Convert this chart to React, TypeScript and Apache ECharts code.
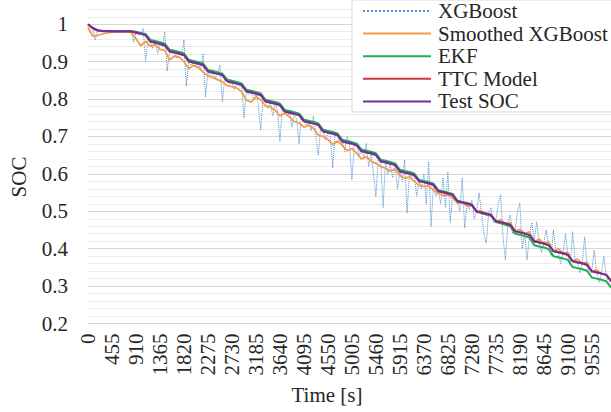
import { useEffect, useRef } from "react";
import * as echarts from "echarts";

// Sampling steps of the logged signals, in seconds
const SOC_STEP = 91;
const XGB_STEP = 45.5;
const T_END = 9919;
const LABEL_STEP = 455;

const seriesNames = ["XGBoost", "Smoothed XGBoost", "EKF", "TTC Model", "Test SOC"];

const testSoc = [
  1.0, 0.99, 0.984, 0.982, 0.982, 0.981, 0.981, 0.981, 0.981,
  0.981, 0.978, 0.975, 0.971,
  0.954, 0.951, 0.948, 0.944,
  0.928, 0.925, 0.922, 0.918,
  0.901, 0.898, 0.895, 0.891,
  0.874, 0.871, 0.868, 0.864,
  0.848, 0.845, 0.842, 0.838,
  0.821, 0.818, 0.815, 0.811,
  0.794, 0.791, 0.788, 0.784,
  0.767, 0.764, 0.761, 0.757,
  0.741, 0.738, 0.735, 0.731,
  0.714, 0.711, 0.708, 0.704,
  0.687, 0.684, 0.681, 0.677,
  0.661, 0.658, 0.655, 0.651,
  0.634, 0.631, 0.628, 0.624,
  0.607, 0.604, 0.601, 0.597,
  0.581, 0.578, 0.575, 0.571,
  0.554, 0.551, 0.548, 0.544,
  0.527, 0.524, 0.521, 0.517,
  0.5, 0.497, 0.494, 0.49,
  0.474, 0.471, 0.468, 0.464,
  0.447, 0.444, 0.441, 0.437,
  0.42, 0.417, 0.414, 0.41,
  0.394, 0.391, 0.388, 0.384,
  0.367, 0.364, 0.361, 0.357,
  0.34, 0.337, 0.334, 0.33,
  0.314,
];

const ttcModel = [
  0.999, 0.989, 0.983, 0.981, 0.981, 0.98, 0.98, 0.98, 0.98,
  0.98, 0.977, 0.974, 0.97,
  0.953, 0.95, 0.947, 0.943,
  0.927, 0.924, 0.921, 0.917,
  0.9, 0.897, 0.894, 0.89,
  0.873, 0.87, 0.867, 0.863,
  0.847, 0.844, 0.841, 0.837,
  0.82, 0.817, 0.814, 0.81,
  0.793, 0.79, 0.787, 0.783,
  0.766, 0.763, 0.76, 0.756,
  0.74, 0.737, 0.734, 0.73,
  0.713, 0.71, 0.707, 0.703,
  0.686, 0.683, 0.68, 0.676,
  0.66, 0.657, 0.654, 0.65,
  0.633, 0.63, 0.627, 0.623,
  0.606, 0.603, 0.6, 0.596,
  0.58, 0.577, 0.574, 0.57,
  0.553, 0.55, 0.547, 0.543,
  0.526, 0.523, 0.52, 0.516,
  0.499, 0.496, 0.493, 0.489,
  0.473, 0.47, 0.467, 0.463,
  0.446, 0.443, 0.44, 0.436,
  0.419, 0.416, 0.413, 0.409,
  0.393, 0.39, 0.387, 0.383,
  0.366, 0.363, 0.36, 0.356,
  0.339, 0.336, 0.333, 0.329,
  0.313,
];

const ekf = [
  1.0, 0.99, 0.984, 0.982, 0.982, 0.981, 0.981, 0.981, 0.981,
  0.982, 0.98, 0.977, 0.974,
  0.958, 0.955, 0.952, 0.948,
  0.932, 0.929, 0.926, 0.922,
  0.905, 0.902, 0.899, 0.895,
  0.878, 0.875, 0.872, 0.868,
  0.852, 0.849, 0.846, 0.842,
  0.825, 0.822, 0.819, 0.815,
  0.798, 0.795, 0.792, 0.788,
  0.771, 0.768, 0.765, 0.761,
  0.745, 0.742, 0.739, 0.735,
  0.718, 0.715, 0.712, 0.708,
  0.691, 0.688, 0.685, 0.681,
  0.665, 0.662, 0.659, 0.655,
  0.638, 0.635, 0.632, 0.628,
  0.611, 0.608, 0.605, 0.601,
  0.584, 0.581, 0.578, 0.574,
  0.556, 0.553, 0.55, 0.546,
  0.528, 0.525, 0.522, 0.518,
  0.499, 0.495, 0.492, 0.488,
  0.471, 0.468, 0.464, 0.46,
  0.44, 0.437, 0.434, 0.43,
  0.409, 0.406, 0.403, 0.399,
  0.38, 0.377, 0.374, 0.37,
  0.351, 0.348, 0.345, 0.341,
  0.323, 0.32, 0.317, 0.313,
  0.296,
];

const smoothedXgb = [
  0.992, 0.968, 0.97, 0.974, 0.977, 0.979, 0.98, 0.98, 0.98,
  0.978, 0.962, 0.942, 0.955,
  0.941, 0.946, 0.933, 0.93,
  0.904, 0.915, 0.912, 0.9,
  0.882, 0.89, 0.884, 0.872,
  0.862, 0.858, 0.852, 0.846,
  0.836, 0.833, 0.83, 0.82,
  0.797, 0.792, 0.806, 0.798,
  0.781, 0.779, 0.77, 0.755,
  0.762, 0.752, 0.74, 0.736,
  0.725, 0.73, 0.722, 0.704,
  0.7, 0.692, 0.678, 0.688,
  0.676, 0.662, 0.668, 0.655,
  0.64, 0.646, 0.634, 0.628,
  0.62, 0.615, 0.608, 0.612,
  0.596, 0.588, 0.592, 0.58,
  0.57, 0.566, 0.568, 0.556,
  0.548, 0.542, 0.544, 0.536,
  0.522, 0.524, 0.514, 0.516,
  0.499, 0.502, 0.49, 0.493,
  0.472, 0.478, 0.466, 0.47,
  0.446, 0.452, 0.44, 0.445,
  0.418, 0.426, 0.414, 0.418,
  0.392, 0.4, 0.388, 0.39,
  0.366, 0.372, 0.36, 0.364,
  0.338, 0.344, 0.333, 0.332,
  0.316,
];

const xgboost = [
  1.0, 0.993, 0.99, 0.958, 0.984, 0.983, 0.982, 0.982, 0.982, 0.981,
  0.981, 0.981, 0.981, 0.981, 0.981, 0.981, 0.981, 0.981, 0.981, 0.953,
  0.978, 0.97, 0.975, 0.989, 0.9, 0.962, 0.954, 0.935, 0.951, 0.922,
  0.948, 0.94, 0.98, 0.875, 0.928, 0.922, 0.925, 0.91, 0.922, 0.915,
  0.958, 0.835, 0.901, 0.89, 0.898, 0.885, 0.895, 0.88, 0.922, 0.806,
  0.874, 0.862, 0.871, 0.855, 0.868, 0.891, 0.792, 0.855, 0.848, 0.84,
  0.845, 0.825, 0.842, 0.835, 0.838, 0.75, 0.821, 0.812, 0.818, 0.8,
  0.815, 0.785, 0.717, 0.808, 0.794, 0.775, 0.791, 0.755, 0.788, 0.77,
  0.686, 0.78, 0.767, 0.755, 0.764, 0.725, 0.761, 0.745, 0.68, 0.757,
  0.741, 0.73, 0.738, 0.715, 0.755, 0.7, 0.65, 0.725, 0.714, 0.69,
  0.711, 0.7, 0.616, 0.708, 0.704, 0.68, 0.687, 0.66, 0.7, 0.68,
  0.584, 0.676, 0.677, 0.65, 0.661, 0.64, 0.682, 0.62, 0.655, 0.6,
  0.539, 0.645, 0.634, 0.51, 0.631, 0.6, 0.628, 0.59, 0.624, 0.56,
  0.607, 0.58, 0.637, 0.495, 0.601, 0.59, 0.597, 0.54, 0.581, 0.56,
  0.6, 0.52, 0.633, 0.459, 0.571, 0.54, 0.554, 0.52, 0.59, 0.51,
  0.606, 0.47, 0.544, 0.53, 0.527, 0.5, 0.589, 0.455, 0.521, 0.505,
  0.53, 0.48, 0.5, 0.549, 0.497, 0.44, 0.415, 0.494, 0.51, 0.47,
  0.474, 0.52, 0.544, 0.43, 0.37, 0.468, 0.49, 0.44, 0.447, 0.5,
  0.522, 0.4, 0.441, 0.37, 0.437, 0.47, 0.42, 0.472, 0.417, 0.39,
  0.414, 0.45, 0.41, 0.38, 0.45, 0.394, 0.391, 0.36, 0.388, 0.44,
  0.384, 0.355, 0.446, 0.367, 0.364, 0.335, 0.361, 0.432, 0.357, 0.33,
  0.34, 0.396, 0.337, 0.31, 0.334, 0.38, 0.33, 0.305, 0.314,
];

const FONT = "Liberation Serif";
const FONT_SIZE = 21;
const TEXT = "#262626";

const withTime = (values: number[], step: number) =>
  values.map((v, i) => [Math.min(i * step, T_END), v]);

export default function App() {
  const ref = useRef<HTMLDivElement>(null);

  useEffect(() => {
    if (!ref.current) return;
    const chart = echarts.init(ref.current, undefined, { renderer: "svg" });

    const lineSeries = (
      name: string,
      data: number[][],
      color: string,
      width: number,
      type: "solid" | "dotted" = "solid"
    ) => ({
      name,
      type: "line",
      data,
      symbol: "none",
      showSymbol: false,
      lineStyle: { color, width, type },
      itemStyle: { color },
      emphasis: { disabled: true },
    });

    chart.setOption({
      animation: false,
      backgroundColor: "#ffffff",
      textStyle: { fontFamily: FONT, color: TEXT },
      grid: { left: 88, right: 0, top: 9.3, bottom: 88.5, containLabel: false },
      xAxis: {
        type: "value",
        min: 0,
        max: T_END,
        interval: LABEL_STEP,
        axisLine: { show: false },
        axisTick: { show: false },
        splitLine: { show: false },
        axisLabel: {
          rotate: 90,
          margin: 10,
          fontSize: FONT_SIZE,
          fontFamily: FONT,
          color: TEXT,
          formatter: (v: number) => (v % LABEL_STEP === 0 ? String(v) : ""),
        },
      },
      yAxis: [
        {
          type: "value",
          min: 0.2,
          max: 1.04,
          interval: 0.02,
          position: "left",
          axisLine: { show: false },
          axisTick: { show: false },
          axisLabel: { show: false },
          splitLine: { show: true, lineStyle: { color: "#ececec", width: 1 } },
        },
        {
          type: "value",
          min: 0.2,
          max: 1.04,
          interval: 0.1,
          position: "left",
          offset: 0,
          axisLine: { show: false },
          axisTick: { show: false },
          axisLabel: {
            margin: 20,
            fontSize: FONT_SIZE,
            fontFamily: FONT,
            color: TEXT,
            formatter: (v: number) => (v > 1.0001 ? "" : String(Math.round(v * 10) / 10)),
          },
          splitLine: {
            show: true,
            showMaxLine: false,
            lineStyle: { color: "#d6d6d6", width: 1 },
          },
        },
      ],
      legend: {
        data: seriesNames,
        orient: "vertical",
        left: 352,
        top: 0,
        padding: [0.5, 6, 0, 10],
        itemWidth: 68,
        itemHeight: 14,
        itemGap: 1.6,
        backgroundColor: "#ffffff",
        borderColor: "#d9d9d9",
        borderWidth: 1,
        selectedMode: false,
        itemStyle: { opacity: 0 },
        textStyle: {
          fontFamily: FONT,
          fontSize: FONT_SIZE,
          lineHeight: 20,
          color: TEXT,
          padding: [0, 0, 0, 2],
        },
      },
      graphic: [
        {
          type: "text",
          x: 19,
          y: 177,
          rotation: Math.PI / 2,
          style: {
            text: "SOC",
            font: `${FONT_SIZE}px "${FONT}"`,
            fill: TEXT,
            textAlign: "center",
            textVerticalAlign: "middle",
          },
        },
        {
          type: "text",
          x: 327,
          y: 395,
          style: {
            text: "Time [s]",
            font: `${FONT_SIZE}px "${FONT}"`,
            fill: TEXT,
            textAlign: "center",
            textVerticalAlign: "middle",
          },
        },
      ],
      series: [
        lineSeries(seriesNames[0], withTime(xgboost, XGB_STEP), "#4f8fd2", 1, "dotted"),
        lineSeries(seriesNames[1], withTime(smoothedXgb, SOC_STEP), "#f59a45", 1.75),
        lineSeries(seriesNames[2], withTime(ekf, SOC_STEP), "#1fb04a", 2),
        lineSeries(seriesNames[3], withTime(ttcModel, SOC_STEP), "#d0393b", 1.75),
        lineSeries(seriesNames[4], withTime(testSoc, SOC_STEP), "#7030a0", 2),
      ],
    });

    return () => chart.dispose();
  }, []);

  return (
    <div
      ref={ref}
      style={{ position: "fixed", left: 0, top: 0, width: 611, height: 412 }}
    />
  );
}
